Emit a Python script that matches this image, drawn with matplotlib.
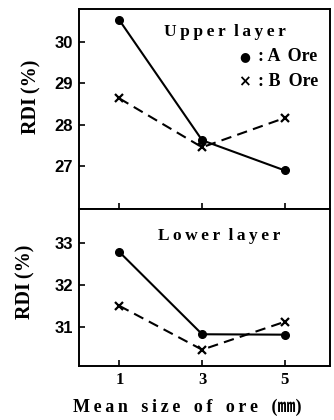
import matplotlib
matplotlib.use("Agg")
import matplotlib.pyplot as plt

sizes = [1, 3, 5]
upper_a = [30.52, 27.62, 26.89]
upper_b = [28.63, 27.45, 28.16]
lower_a = [32.79, 30.82, 30.81]
lower_b = [31.50, 30.45, 31.12]
upper_yticks = [27, 28, 29, 30]
lower_yticks = [31, 32, 33]

serif = ['Liberation Serif', 'DejaVu Serif']
plt.rcParams['font.family'] = serif

T = '\u2009'
def spaced(s, sep=T):
    return sep.join(s)

fig = plt.figure(figsize=(3.34, 4.2), dpi=100)
L, W = 0.236, 0.752
ax1 = fig.add_axes([L, 0.5024, W, 0.4762])
ax2 = fig.add_axes([L, 0.1286, W, 0.3738])

def style(ax, yt, ylim):
    ax.set_xlim(0.02, 6.09)
    ax.set_ylim(*ylim)
    ax.set_xticks(sizes)
    ax.set_yticks(yt)
    for s in ax.spines.values():
        s.set_linewidth(1.4)
    ax.tick_params(direction='in', length=4, width=1.2, top=False, right=False,
                   labelsize=12, pad=4)
    for lab in ax.get_yticklabels():
        lab.set_fontfamily(['Liberation Sans', 'DejaVu Sans'])
        lab.set_fontweight('bold')
    for lab in ax.get_xticklabels():
        lab.set_fontweight('bold')

style(ax1, upper_yticks, (25.96, 30.79))
style(ax2, lower_yticks, (30.06, 33.82))
ax1.tick_params(labelbottom=False)

for ax, a, b in [(ax1, upper_a, upper_b), (ax2, lower_a, lower_b)]:
    ax.plot(sizes, a, '-', color='black', lw=1.5, marker='o', ms=5.5)
    ax.plot(sizes, b, '--', color='black', lw=1.5, marker='x', ms=5.5, mew=1.6,
            dashes=(5, 3))

ax1.text(0.58, 0.885, spaced('Upper') + '  ' + spaced('layer'),
         transform=ax1.transAxes, fontsize=12.5, fontweight='bold',
         ha='center', va='center')
ax1.text(0.66, 0.76, '●', transform=ax1.transAxes, fontsize=9,
         ha='center', va='center', family=['DejaVu Sans'])
ax1.text(0.715, 0.76, ': A ' + T + 'Ore', transform=ax1.transAxes,
         fontsize=13, fontweight='bold', ha='left', va='center')
ax1.text(0.66, 0.635, '×', transform=ax1.transAxes, fontsize=11,
         ha='center', va='center', family=['DejaVu Sans'], fontweight='bold')
ax1.text(0.715, 0.635, ': B ' + T + 'Ore', transform=ax1.transAxes,
         fontsize=13, fontweight='bold', ha='left', va='center')
ax2.text(0.56, 0.83, spaced('Lower') + '  ' + spaced('layer'),
         transform=ax2.transAxes, fontsize=12.5, fontweight='bold',
         ha='center', va='center')

fig.text(0.095, 0.769, 'RDI' + T + '(%)', rotation=90, fontsize=14.5,
         fontweight='bold', ha='center', va='center')
fig.text(0.075, 0.329, 'RDI' + T + '(%)', rotation=90, fontsize=14.5,
         fontweight='bold', ha='center', va='center')
fig.text(0.562, 0.03, spaced('Mean') + '   ' + spaced('size') + '   ' + spaced('of')
         + '   ' + spaced('ore') + '   (㎜)', fontsize=13,
         fontweight='bold', ha='center', va='center',
         family=['Liberation Serif', 'Noto Sans CJK JP'])

fig.savefig('out.png', dpi=100)
